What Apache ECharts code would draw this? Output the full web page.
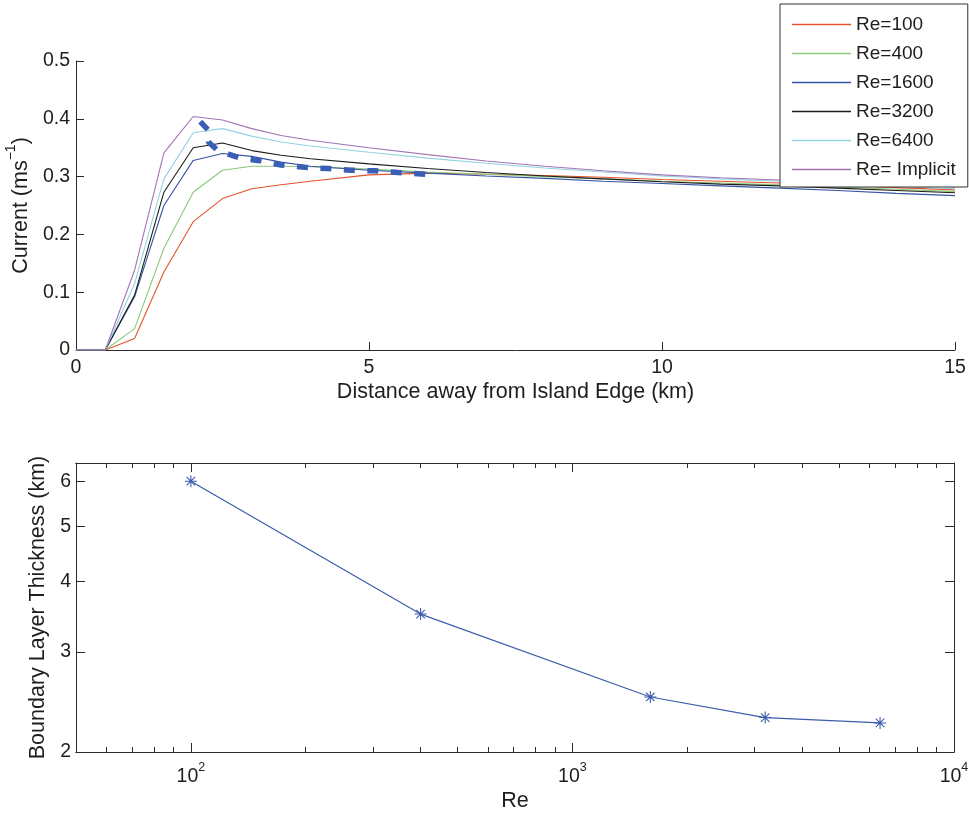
<!DOCTYPE html>
<html>
<head>
<meta charset="utf-8">
<title>Boundary layer current profiles</title>
<script src="https://cdn.jsdelivr.net/npm/echarts@6/dist/echarts.min.js"></script>
<style>
  html, body { margin: 0; padding: 0; background: #ffffff; }
  #chart { width: 969px; height: 813px; }
</style>
</head>
<body>
<div id="chart"></div>
<script>
// Distance from the island edge (km) at which the current was sampled
const distanceKm = [0, 0.5, 1, 1.5, 2, 2.5, 3, 3.5, 4, 5, 6, 7, 8, 9, 10, 11, 12, 13, 14, 15];

// Current speed (m/s) for each Reynolds number run
const currentRe100  = [0, 0, 0.020, 0.135, 0.222, 0.262, 0.279, 0.286, 0.292, 0.303, 0.306, 0.304, 0.302, 0.299, 0.295, 0.292, 0.289, 0.285, 0.281, 0.277];
const currentRe400  = [0, 0, 0.037, 0.176, 0.273, 0.311, 0.318, 0.318, 0.317, 0.313, 0.308, 0.304, 0.300, 0.296, 0.292, 0.289, 0.286, 0.282, 0.278, 0.274];
const currentRe1600 = [0, 0, 0.092, 0.250, 0.328, 0.340, 0.335, 0.325, 0.318, 0.311, 0.306, 0.301, 0.297, 0.292, 0.288, 0.284, 0.280, 0.276, 0.271, 0.267];
const currentRe3200 = [0, 0, 0.095, 0.273, 0.350, 0.358, 0.345, 0.337, 0.331, 0.322, 0.314, 0.307, 0.301, 0.296, 0.291, 0.287, 0.284, 0.280, 0.276, 0.272];
const currentRe6400 = [0, 0, 0.115, 0.296, 0.376, 0.383, 0.370, 0.360, 0.353, 0.342, 0.332, 0.323, 0.315, 0.308, 0.301, 0.296, 0.292, 0.287, 0.283, 0.279];
const currentImplicit = [0, 0, 0.138, 0.341, 0.404, 0.398, 0.383, 0.371, 0.363, 0.350, 0.338, 0.327, 0.318, 0.310, 0.303, 0.298, 0.294, 0.290, 0.286, 0.282];

const runNames = ['Re=100', 'Re=400', 'Re=1600', 'Re=3200', 'Re=6400', 'Re= Implicit'];
const runColors = ['#e2532d', '#8cc97a', '#3553a3', '#1c1c1c', '#93d2e2', '#a274b3'];

// Dashed guide tracing the shift of the current maximum
const peakTrackKm = [2.12, 2.27, 2.26, 2.41, 2.6, 2.8, 3.1, 3.5, 3.9, 4.3, 4.7, 5.1, 5.5, 6.0];
const peakTrackCurrent = [0.395, 0.379, 0.360, 0.346, 0.339, 0.332, 0.328, 0.320, 0.316, 0.314, 0.311, 0.310, 0.307, 0.304];

// Boundary layer thickness against Reynolds number
const reynolds = [100, 400, 1600, 3200, 6400];
const thicknessKm = [6.0, 3.5, 2.5, 2.3, 2.25];

// Tick values for the log axes
const reMajorTicks = [100, 1000, 10000];
const reMinorTicks = [60, 70, 80, 90, 200, 300, 400, 500, 600, 700, 800, 900, 2000, 3000, 4000, 5000, 6000, 7000, 8000, 9000];
const thicknessTicks = [2, 3, 4, 5, 6];

const FONT = 'Liberation Sans';
const INK = '#1e1e1e';
const AXIS = '#2a2a2a';
const TICK_FONT = 19.5;
const NAME_FONT = 21.5;

const currentRuns = [currentRe100, currentRe400, currentRe1600, currentRe3200, currentRe6400, currentImplicit];

const asterisk = 'path://M9.1,0 L10.9,0 L10.9,20 L9.1,20 Z ' +
  'M0,9.1 L20,9.1 L20,10.9 L0,10.9 Z ' +
  'M3.57,2.29 L17.71,16.43 L16.43,17.71 L2.29,3.57 Z ' +
  'M17.71,3.57 L3.57,17.71 L2.29,16.43 L16.43,2.29 Z';

function supStyles(size, supSize) {
  return {
    base: { fontFamily: FONT, fontSize: size, color: INK, lineHeight: size + 6, verticalAlign: 'bottom' },
    sup: { fontFamily: FONT, fontSize: supSize, color: INK, lineHeight: supSize, verticalAlign: 'top' }
  };
}

function powerLabel(v) {
  const exp = Math.round(Math.log10(v));
  return '{base|10}{sup|' + exp + '}';
}

const labelStyle = { fontFamily: FONT, fontSize: TICK_FONT, color: INK };
const nameStyle = { fontFamily: FONT, fontSize: NAME_FONT, color: INK };

function logXAxis(position, ticks, tickLen, withLabels) {
  return {
    type: 'log', gridIndex: 1, position: position, min: 50, max: 10000,
    axisLine: { onZero: false, lineStyle: { color: AXIS, width: 1 } },
    axisTick: { inside: true, length: tickLen, customValues: ticks, lineStyle: { color: AXIS } },
    axisLabel: withLabels ? {
      customValues: reMajorTicks, margin: 9, formatter: powerLabel, rich: supStyles(TICK_FONT, 12.5)
    } : { show: false },
    splitLine: { show: false },
    minorTick: { show: false }
  };
}

function logYAxis(position, withLabels) {
  return {
    type: 'log', gridIndex: 1, position: position, min: 2, max: 6.46,
    axisLine: { onZero: false, lineStyle: { color: AXIS, width: 1 } },
    axisTick: { inside: true, length: 9, customValues: thicknessTicks, lineStyle: { color: AXIS } },
    axisLabel: withLabels ? Object.assign({ customValues: thicknessTicks, margin: 5 }, labelStyle) : { show: false },
    splitLine: { show: false },
    name: withLabels ? 'Boundary Layer Thickness (km)' : '',
    nameLocation: 'middle', nameGap: 25,
    nameTextStyle: nameStyle
  };
}

const series = runNames.map((name, i) => ({
  name: name, type: 'line', xAxisIndex: 0, yAxisIndex: 0,
  data: distanceKm.map((x, k) => [x, currentRuns[i][k]]),
  symbol: 'none', smooth: false,
  lineStyle: { color: runColors[i], width: 1.1 },
  itemStyle: { color: runColors[i] },
  z: 2
}));

series.push({
  name: 'peak track', type: 'line', xAxisIndex: 0, yAxisIndex: 0,
  data: peakTrackKm.map((x, k) => [x, peakTrackCurrent[k]]),
  symbol: 'none', silent: true,
  lineStyle: { color: '#3a5db6', width: 5.5, type: [11, 12.5], cap: 'butt' },
  z: 3
});

series.push({
  name: 'thickness', type: 'line', xAxisIndex: 2, yAxisIndex: 1,
  data: reynolds.map((r, k) => [r, thicknessKm[k]]),
  symbol: asterisk, symbolSize: 12, showSymbol: true,
  lineStyle: { color: '#3c5caa', width: 1.2 },
  itemStyle: { color: '#3c5caa' },
  z: 2
});

const option = {
  backgroundColor: '#ffffff',
  animation: false,
  textStyle: { fontFamily: FONT },
  grid: [
    { left: 76, top: 61, width: 879, height: 289, outerBoundsMode: 'none', containLabel: false },
    { left: 76, top: 463, width: 878, height: 289, outerBoundsMode: 'none', containLabel: false }
  ],
  legend: {
    data: runNames,
    orient: 'vertical',
    left: 780, top: 4,
    padding: [11, 12, 8, 12],
    icon: 'rect',
    itemWidth: 59, itemHeight: 1.3, itemGap: 10,
    backgroundColor: '#ffffff',
    borderColor: '#333333', borderWidth: 1, borderRadius: 0,
    textStyle: { fontFamily: FONT, fontSize: 19, color: INK, lineHeight: 19 },
    z: 10
  },
  xAxis: [
    {
      type: 'value', gridIndex: 0, min: 0, max: 15, interval: 5,
      axisLine: { onZero: false, lineStyle: { color: AXIS, width: 1 } },
      axisTick: { inside: true, length: 8, lineStyle: { color: AXIS } },
      axisLabel: Object.assign({ margin: 8 }, labelStyle),
      splitLine: { show: false },
      name: 'Distance away from Island Edge (km)',
      nameLocation: 'middle', nameGap: 31,
      nameTextStyle: nameStyle
    },
    logXAxis('bottom', reMinorTicks, 5, false),
    Object.assign(logXAxis('bottom', reMajorTicks, 9, true), {
      name: 'Re', nameLocation: 'middle', nameGap: 38,
      nameTextStyle: nameStyle
    }),
    logXAxis('top', reMinorTicks, 5, false),
    logXAxis('top', reMajorTicks, 9, false)
  ],
  yAxis: [
    {
      type: 'value', gridIndex: 0, min: 0, max: 0.5, interval: 0.1,
      axisLine: { onZero: false, lineStyle: { color: AXIS, width: 1 } },
      axisTick: { inside: true, length: 8, lineStyle: { color: AXIS } },
      axisLabel: Object.assign({ margin: 6 }, labelStyle),
      splitLine: { show: false },
      name: '{base|Current (ms}{sup|−1}{base|)}',
      nameLocation: 'middle', nameGap: 38,
      nameTextStyle: { rich: supStyles(NAME_FONT, 14) }
    },
    logYAxis('left', true),
    logYAxis('right', false)
  ],
  series: series
};

const chart = echarts.init(document.getElementById('chart'), null, { renderer: 'canvas' });
chart.setOption(option);
</script>
</body>
</html>
